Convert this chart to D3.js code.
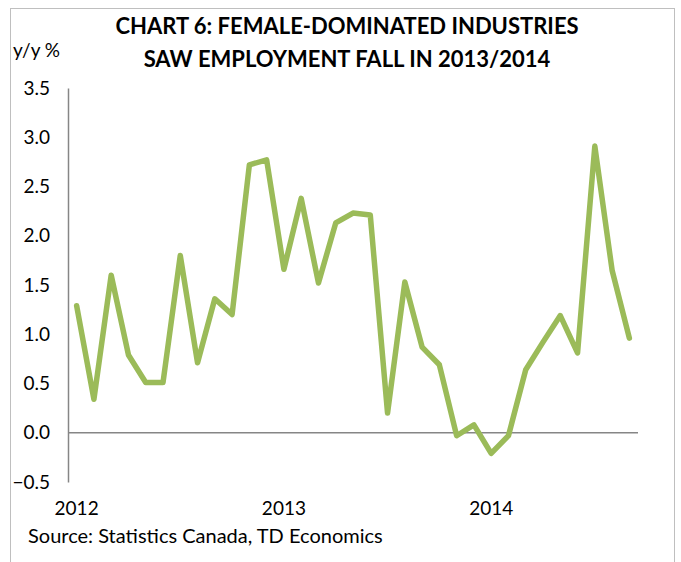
<!DOCTYPE html>
<html>
<head>
<meta charset="utf-8">
<script src="https://cdn.jsdelivr.net/npm/d3@7"></script>
<style>
  body { margin: 0; background: #fff; }
  svg text { font-family: Lato, "Open Sans", sans-serif; fill: #000; }
</style>
</head>
<body>
<svg id="chart" width="681" height="562"></svg>
<script>
// monthly, Jan 2012 .. Sep 2014
const months = d3.range(33).map(function (i) { return new Date(2012, i, 1); });
const values = [1.29, 0.34, 1.60, 0.79, 0.51, 0.51, 1.80, 0.71, 1.36, 1.20,
                2.72, 2.77, 1.66, 2.38, 1.52, 2.13, 2.23, 2.21, 0.20, 1.53,
                0.87, 0.69, -0.03, 0.08, -0.21, -0.03, 0.64, 0.92, 1.19, 0.81,
                2.91, 1.65, 0.96];
const yTicks = [-0.5, 0.0, 0.5, 1.0, 1.5, 2.0, 2.5, 3.0, 3.5];
const titleLines = ["CHART 6: FEMALE-DOMINATED INDUSTRIES", "SAW EMPLOYMENT FALL IN 2013/2014"];

const svg = d3.select("svg#chart");
const plotLeft = 68, plotRight = 638, plotTop = 88, plotBottom = 482;

// outer frame
svg.append("rect")
    .attr("x", 10.5).attr("y", 8.5)
    .attr("width", 664).attr("height", 600)
    .attr("fill", "none").attr("stroke", "#bfbfbf").attr("stroke-width", 1);

const x = d3.scaleBand()
    .domain(months.map(function (d, i) { return i; }))
    .range([plotLeft, plotRight]);

const y = d3.scaleLinear()
    .domain([-0.5, 3.5])
    .range([plotBottom, plotTop]);

// y axis
const yAxis = svg.append("g")
    .attr("transform", "translate(" + plotLeft + ",0)")
    .call(d3.axisLeft(y).tickValues(yTicks).tickSize(0).tickPadding(18)
        .tickFormat(d3.format(".1f")));
yAxis.attr("font-family", null);
yAxis.select(".domain").attr("stroke", "#868686").attr("stroke-width", 1.5);
yAxis.selectAll("text").style("font-size", "19px");

// category axis crossing at zero
svg.append("line")
    .attr("x1", plotLeft).attr("x2", plotRight)
    .attr("y1", y(0)).attr("y2", y(0))
    .attr("stroke", "#868686").attr("stroke-width", 1.5);

svg.append("g")
    .selectAll("text")
    .data(months.filter(function (d) { return d.getMonth() === 0; }))
    .join("text")
    .attr("x", function (d) { return x(months.indexOf(d)) + x.bandwidth() / 2; })
    .attr("y", 515)
    .attr("text-anchor", "middle")
    .style("font-size", "19px")
    .text(function (d) { return d.getFullYear(); });

// series
const line = d3.line()
    .x(function (d, i) { return x(i) + x.bandwidth() / 2; })
    .y(function (d) { return y(d); });

svg.append("path")
    .datum(values)
    .attr("d", line)
    .attr("fill", "none")
    .attr("stroke", "#9bbb59")
    .attr("stroke-width", 5.5)
    .attr("stroke-linejoin", "round")
    .attr("stroke-linecap", "round");

// title
svg.selectAll("text.title")
    .data(titleLines)
    .join("text")
    .attr("class", "title")
    .attr("x", 347)
    .attr("y", function (d, i) { return 34 + i * 33; })
    .attr("text-anchor", "middle")
    .style("font-size", "22px")
    .style("font-weight", "bold")
    .text(function (d) { return d; });

svg.append("text")
    .attr("x", 13).attr("y", 57)
    .style("font-size", "19px")
    .text("y/y %");

svg.append("text")
    .attr("x", 28).attr("y", 543)
    .style("font-size", "20px")
    .text("Source: Statistics Canada, TD Economics");
</script>
</body>
</html>
